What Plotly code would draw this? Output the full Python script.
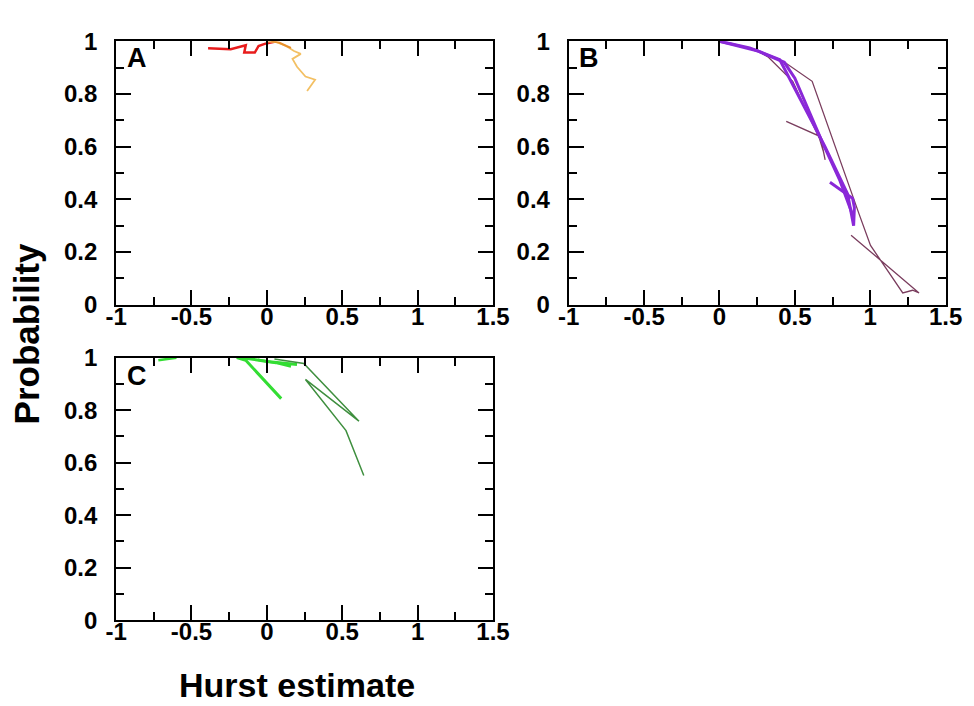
import plotly.graph_objects as go

# ---------------- data ----------------
# Panel A
a_red_x = [-0.39, -0.24, -0.14, -0.15, -0.08, -0.055, -0.015, 0.05]
a_red_y = [0.973, 0.970, 0.985, 0.957, 0.957, 0.982, 0.990, 0.998]
a_dorange_x = [0.03, 0.08, 0.13, 0.16]
a_dorange_y = [1.0, 0.995, 0.982, 0.975]
a_orange_x = [0.0, 0.06, 0.128, 0.18, 0.225, 0.17, 0.20, 0.256, 0.32, 0.267]
a_orange_y = [1.0, 0.997, 0.982, 0.963, 0.952, 0.933, 0.903, 0.866, 0.854, 0.811]

# Panel B
b_p1_x = [0.0, 0.25, 0.43, 0.50, 0.68, 0.80, 0.89]
b_p1_y = [1.0, 0.964, 0.920, 0.860, 0.620, 0.470, 0.330]
b_p2_x = [0.0, 0.20, 0.40, 0.49, 0.70, 0.85, 0.89, 0.895, 0.883, 0.733]
b_p2_y = [1.0, 0.975, 0.930, 0.830, 0.600, 0.420, 0.300, 0.370, 0.404, 0.465]
b_t1_x = [0.0, 0.25, 0.43, 0.615, 0.927, 1.002, 1.216, 1.281, 1.324, 0.873]
b_t1_y = [1.0, 0.964, 0.921, 0.848, 0.343, 0.225, 0.045, 0.055, 0.045, 0.264]
b_t2_x = [0.0, 0.25, 0.325, 0.486, 0.68, 0.701, 0.690, 0.658, 0.443]
b_t2_y = [1.0, 0.964, 0.939, 0.848, 0.610, 0.550, 0.580, 0.641, 0.696]

# Panel C
c_g0_x = [-0.72, -0.60]
c_g0_y = [0.990, 1.0]
c_g1_x = [-0.16, 0.0, 0.20]
c_g1_y = [1.0, 0.985, 0.974]
c_g2_x = [-0.06, 0.06, 0.16]
c_g2_y = [0.992, 0.980, 0.966]
c_g3_x = [-0.20, -0.14, 0.095]
c_g3_y = [1.0, 0.990, 0.844]
c_d1_x = [0.05, 0.245, 0.611, 0.256, 0.525, 0.643]
c_d1_y = [0.995, 0.978, 0.758, 0.917, 0.722, 0.551]

x_tickvals = [-1, -0.5, 0, 0.5, 1, 1.5]
x_ticktext = ["-1", "-0.5", "0", "0.5", "1", "1.5"]
y_tickvals = [0, 0.2, 0.4, 0.6, 0.8, 1]
y_ticktext = ["0", "0.2", "0.4", "0.6", "0.8", "1"]

W, H = 974, 706
RED = "#e81c1c"
ORANGE = "#f3c064"
DORANGE = "#e8902c"
PURPLE = "#8a28d8"
BROWN = "#7a3d5e"
LGREEN = "#33dd33"
DGREEN = "#3f8f3f"

fig = go.Figure()

def add(x, y, color, width, ax):
    xa, ya = ax
    fig.add_trace(go.Scatter(x=x, y=y, mode="lines", line=dict(color=color, width=width),
                             xaxis=xa, yaxis=ya, showlegend=False, hoverinfo="skip"))

A = ("x", "y")
B = ("x2", "y2")
C = ("x3", "y3")
add(a_red_x, a_red_y, RED, 2.5, A)
add(a_orange_x, a_orange_y, ORANGE, 1.8, A)
add(a_dorange_x, a_dorange_y, DORANGE, 2, A)

add(b_t1_x, b_t1_y, BROWN, 1.3, B)
add(b_t2_x, b_t2_y, BROWN, 1.3, B)
add(b_p1_x, b_p1_y, PURPLE, 3, B)
add(b_p2_x, b_p2_y, PURPLE, 3, B)

add(c_g0_x, c_g0_y, LGREEN, 2.5, C)
add(c_g1_x, c_g1_y, LGREEN, 3, C)
add(c_g2_x, c_g2_y, LGREEN, 2.5, C)
add(c_g3_x, c_g3_y, LGREEN, 3, C)
add(c_d1_x, c_d1_y, DGREEN, 1.5, C)

tickfont = dict(family="Liberation Sans, Arial, sans-serif", size=24, color="black")

def bold(labels):
    return ["<b>%s</b>" % t for t in labels]

def xaxis(x0, x1, anchor):
    return dict(domain=[x0 / W, x1 / W], anchor=anchor, range=[-1, 1.5],
                tickvals=x_tickvals, ticktext=bold(x_ticktext), ticks="inside", ticklen=15,
                tickwidth=2, tickcolor="black", showline=True, linecolor="black",
                linewidth=2, mirror="allticks", showgrid=False, zeroline=False,
                tickfont=tickfont, ticklabelstandoff=-11,
                minor=dict(dtick=0.25, tick0=0, ticks="inside", ticklen=8,
                           tickwidth=2, tickcolor="black", showgrid=False))

def yaxis(top, bottom, anchor):
    return dict(domain=[1 - bottom / H, 1 - top / H], anchor=anchor, range=[0, 1],
                tickvals=y_tickvals, ticktext=bold(y_ticktext), ticks="inside", ticklen=15,
                tickwidth=2, tickcolor="black", showline=True, linecolor="black",
                linewidth=2, mirror="allticks", showgrid=False, zeroline=False,
                tickfont=tickfont, ticklabelstandoff=12,
                minor=dict(dtick=0.1, tick0=0, ticks="inside", ticklen=8,
                           tickwidth=2, tickcolor="black", showgrid=False))

fig.update_layout(
    width=W, height=H, margin=dict(l=0, r=0, t=0, b=0),
    paper_bgcolor="white", plot_bgcolor="white",
    xaxis=xaxis(100, 488, "y"), yaxis=yaxis(20, 294, "x"),
    xaxis2=xaxis(566, 954, "y2"), yaxis2=yaxis(20, 294, "x2"),
    xaxis3=xaxis(100, 488, "y3"), yaxis3=yaxis(349, 622, "x3"),
)

labfont = dict(family="Liberation Sans, Arial, sans-serif", size=27, color="black")
for txt, px, py in [("A", 121, 37), ("B", 587, 37), ("C", 121, 368)]:
    fig.add_annotation(text="<b>%s</b>" % txt, x=px / W, y=1 - py / H, xref="paper", yref="paper",
                       showarrow=False, font=labfont, xanchor="center", yanchor="middle")

titfont = dict(family="Liberation Sans, Arial, sans-serif", size=35, color="black")
fig.add_annotation(text="<b>Probability</b>", x=8 / W, y=1 - 324 / H, xref="paper", yref="paper",
                   showarrow=False, font=titfont, textangle=-90, xanchor="center", yanchor="middle")
fig.add_annotation(text="<b>Hurst estimate</b>", x=286 / W, y=1 - 689 / H, xref="paper", yref="paper",
                   showarrow=False, font=dict(family="Liberation Sans, Arial, sans-serif", size=34,
                                              color="black"),
                   xanchor="center", yanchor="middle")

fig.write_html("out.html")
